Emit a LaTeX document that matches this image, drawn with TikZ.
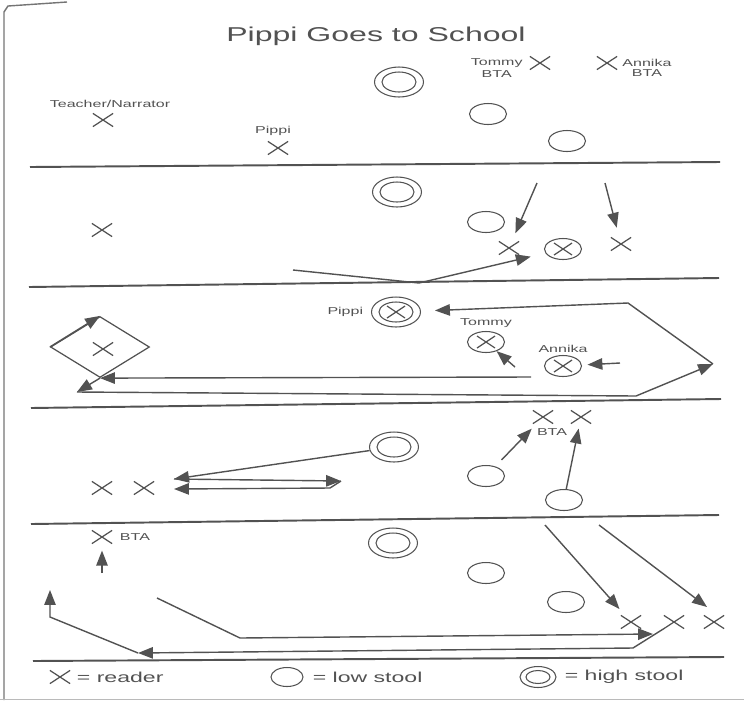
\documentclass[tikz,border=0pt]{standalone}
\usepackage{fontspec}
\newfontfamily\labfont[FakeStretch=1.6]{Liberation Sans}
\usetikzlibrary{arrows.meta, positioning, shapes.geometric, shapes.misc}
\definecolor{ink}{gray}{0.32}

\begin{document}
\begin{tikzpicture}[x=0.02cm, y=-0.02cm,
    every node/.style={inner sep=0pt, text=ink, font=\labfont\fontsize{5.7}{7}\selectfont},
    reader/.style={draw=ink, cross out, line width=0.7pt, minimum width=0.38cm, minimum height=0.24cm},
    lowstool/.style={draw=ink, ellipse, line width=0.6pt, minimum width=0.74cm, minimum height=0.42cm},
    highstool/.style={lowstool, minimum width=0.98cm, minimum height=0.6cm,
        path picture={\draw[ink, line width=0.6pt] (path picture bounding box.center) ellipse (0.34cm and 0.2cm);}},
    seated/.style={lowstool,
        path picture={\draw[ink, line width=0.7pt] (path picture bounding box.center) ++(-0.18cm,-0.12cm) -- ++(0.36cm,0.24cm) ++(0,-0.24cm) -- ++(-0.36cm,0.24cm);}},
    highseated/.style={highstool,
        path picture={\draw[ink, line width=0.6pt] (path picture bounding box.center) ellipse (0.34cm and 0.2cm);
                      \draw[ink, line width=0.7pt] (path picture bounding box.center) ++(-0.18cm,-0.12cm) -- ++(0.36cm,0.24cm) ++(0,-0.24cm) -- ++(-0.36cm,0.24cm);}},
    move/.style={draw=ink, line width=0.8pt, -{Triangle[length=8.5pt, width=6.5pt]}},
    divider/.style={draw=ink, line width=1.1pt}]
        \useasboundingbox (0,0) rectangle (744,701);

        % 紙の縁
        \draw[ink!80, line width=0.8pt] (4,700) -- (4,12) -- (8,6) -- (67,2);
        \draw[ink!40, line width=0.5pt] (0,699) -- (744,699);

        \node[font=\labfont\fontsize{11.4}{14}\selectfont] (title) at (376,36) {Pippi Goes to School};

        % 場面 1
        \node[reader] (teacher) at (103,120) {};
        \node[above=0.11cm of teacher, xshift=0.14cm] (teacherlab) {Teacher/Narrator};
        \node[reader] (pippi) at (278,148) {};
        \node[above=0.11cm of pippi, xshift=-0.1cm] (pippilab) {Pippi};
        \node[highstool] (hs1) at (399,82) {};
        \node[lowstool] (ls1a) at (488,114) {};
        \node[lowstool] (ls1b) at (567,141) {};
        \node[reader] (tommy) at (540,63) {};
        \node[left=0.14cm of tommy] (tommylab) {Tommy};
        \node[below=0.04cm of tommylab] (tommybta) {BTA};
        \node[reader] (annika) at (607,63) {};
        \node[right=0.1cm of annika] (annikalab) {Annika};
        \node[below=0.04cm of annikalab] (annikabta) {BTA};

        \draw[divider] (30,167) -- (720,162);

        % 場面 2
        \node[highstool] (hs2) at (397,192) {};
        \node[reader] (teacher2) at (102,230) {};
        \node[lowstool] (ls2) at (486,222) {};
        \node[reader] (tommy2) at (509,248) {};
        \node[seated] (pippi2) at (563,249) {};
        \node[reader] (annika2) at (621,244) {};
        \coordinate (c2a) at (537,183);
        \coordinate (c2b) at (605,183);
        \coordinate (c2c) at (293,270);
        \coordinate (c2d) at (419,283);
        \draw[move, shorten >=0.18cm] (c2a) -- (tommy2);
        \draw[move, shorten >=0.2cm] (c2b) -- (annika2);
        \draw[move, shorten >=0.3cm] (c2c) -- (c2d) -- (pippi2);

        \draw[divider] (29,287) -- (719,278);

        % 場面 3
        \node[highseated] (hs3) at (396,312) {};
        \node[left=0.15cm of hs3] (pippilab3) {Pippi};
        \node[seated] (tommy3) at (486,342) {};
        \node[above=0.07cm of tommy3] (tommylab3) {Tommy};
        \node[seated] (annika3) at (563,366) {};
        \node[above=0.04cm of annika3] (annikalab3) {Annika};
        \node[diamond, draw=ink, line width=0.7pt, minimum width=1.98cm, minimum height=1.22cm] (box) at (100,347) {};
        \node[reader] (teacher3) at (103,349) {};
        \coordinate (c3a) at (515,367);
        \coordinate (c3b) at (620,363);
        \coordinate (c3c) at (531,377);
        \coordinate (c3d) at (77,392);
        \coordinate (c3e) at (636,396);
        \coordinate (c3f) at (713,364);
        \coordinate (c3g) at (628,303);
        \draw[move] (c3a) -- (tommy3);
        \draw[move, shorten >=0.11cm] (c3b) -- (annika3);
        \draw[move] (c3c) -- (box.south);
        \draw[move] (box.west) -- (box.north);
        \draw[move] (box.south) -- (c3d);
        \draw[move] (c3d) -- (c3e) -- (c3f);
        \draw[move, shorten >=0.28cm] (c3f) -- (c3g) -- (hs3);

        \draw[divider] (31,408) -- (721,399);

        % 場面 4
        \node[reader] (r4a) at (102,488) {};
        \node[reader] (r4b) at (144,488) {};
        \node[highstool] (hs4) at (394,447) {};
        \node[lowstool] (ls4a) at (486,476) {};
        \node[lowstool] (ls4b) at (564,500) {};
        \node[reader] (r4c) at (543,417) {};
        \node[reader] (r4d) at (581,417) {};
        \node (bta4) at (552,432) {BTA};
        \coordinate (c4a) at (174,479);
        \coordinate (c4b) at (341,481);
        \coordinate (c4c) at (330,488);
        \coordinate (c4d) at (174,489);
        \draw[move] (hs4) -- (c4a);
        \draw[move] (c4a) -- (c4b);
        \draw[move] (c4b) -- (c4c) -- (c4d);
        \draw[move, shorten <=0.18cm, shorten >=0.14cm] (ls4a) -- (r4c);
        \draw[move, shorten >=0.1cm] (ls4b) -- (r4d);

        \draw[divider] (31,524) -- (719,515);

        % 場面 5
        \node[reader] (r5a) at (102,537) {};
        \node[right=0.15cm of r5a] (bta5) {BTA};
        \node[highstool] (hs5) at (393,543) {};
        \node[lowstool] (ls5a) at (486,573) {};
        \node[lowstool] (ls5b) at (566,602) {};
        \node[reader] (r5b) at (631,622) {};
        \node[reader] (r5c) at (674,622) {};
        \node[reader] (r5d) at (714,622) {};
        \coordinate (c5a) at (102,573);
        \coordinate (c5b) at (545,525);
        \coordinate (c5c) at (599,525);
        \coordinate (c5d) at (707,607);
        \coordinate (c5e) at (633,648);
        \coordinate (c5f) at (138,653);
        \coordinate (c5g) at (50,617);
        \coordinate (c5h) at (50,590);
        \coordinate (c5i) at (157,598);
        \coordinate (c5j) at (240,638);
        \coordinate (c5k) at (653,634);
        \draw[move, shorten >=0.14cm] (c5a) -- (r5a);
        \draw[move, shorten >=0.17cm] (c5b) -- (r5b);
        \draw[move] (c5c) -- (c5d);
        \draw[move] (r5c.south west) -- (c5e) -- (c5f);
        \draw[move] (c5f) -- (c5g) -- (c5h);
        \draw[move] (c5i) -- (c5j) -- (c5k);

        \draw[divider] (33,661) -- (724,657);

        % 凡例
        \node[reader] (lgx) at (60,677) {};
        \node[right=0.13cm of lgx, font=\labfont\fontsize{8.2}{10}\selectfont] (lgxlab) {= reader};
        \node[lowstool, minimum width=0.64cm, minimum height=0.38cm] (lgl) at (287,677) {};
        \node[right=0.18cm of lgl, font=\labfont\fontsize{8.2}{10}\selectfont] (lgllab) {= low stool};
        \node[highstool, minimum width=0.72cm, minimum height=0.42cm,
            path picture={\draw[ink, line width=0.6pt] (path picture bounding box.center) ellipse (0.24cm and 0.13cm);}] (lgh) at (538,677) {};
        \node[right=0.16cm of lgh, font=\labfont\fontsize{8.2}{10}\selectfont] (lghlab) {= high stool};
    \end{tikzpicture}
\end{document}
